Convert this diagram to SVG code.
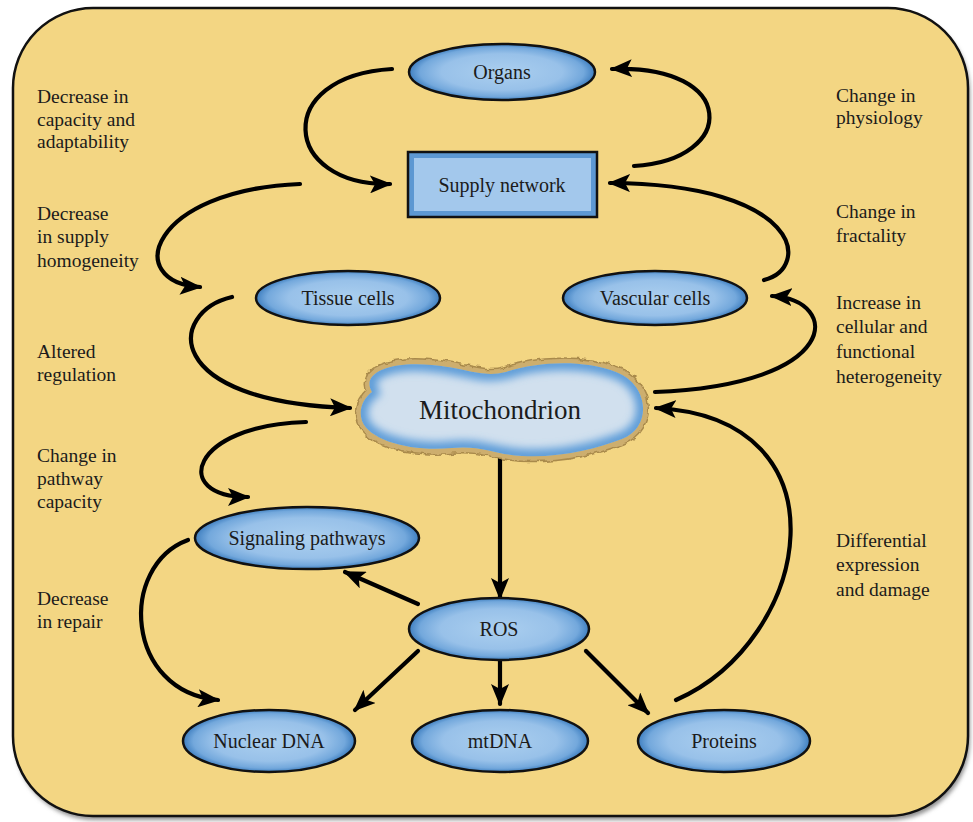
<svg xmlns="http://www.w3.org/2000/svg" width="973" height="822" viewBox="0 0 973 822">
  <style>
    .node { stroke: #111; stroke-width: 2.5; }
    .ell { fill: url(#blueGrad); }
    .label { font-family: "Liberation Serif", "Times New Roman", serif; font-size: 20px; fill: #1b1b1b; text-anchor: middle; dominant-baseline: central; }
    .side { font-family: "Liberation Serif", "Times New Roman", serif; font-size: 19.5px; fill: #1b1b1b; }
    .conn { fill: none; stroke: #000; stroke-width: 4.2; stroke-linecap: round; marker-end: url(#arrow); }
  </style>
  <defs>
    <radialGradient id="blueGrad" cx="50%" cy="50%" r="50%">
      <stop offset="0%" stop-color="#ABCFEF"/>
      <stop offset="65%" stop-color="#98C1E9"/>
      <stop offset="88%" stop-color="#73A8DC"/>
      <stop offset="100%" stop-color="#3F7FC0"/>
    </radialGradient>
    <marker id="arrow" viewBox="0 0 22 18" refX="20" refY="9" markerWidth="22" markerHeight="18" markerUnits="userSpaceOnUse" orient="auto">
      <path d="M0,0 L22,9 L0,18 L5,9 Z" fill="#000"/>
    </marker>
    <filter id="blur4" x="-20%" y="-20%" width="140%" height="140%">
      <feGaussianBlur stdDeviation="4"/>
    </filter>
    <filter id="rough" x="-10%" y="-10%" width="120%" height="120%">
      <feTurbulence type="fractalNoise" baseFrequency="0.12" numOctaves="2" seed="3" result="noise"/>
      <feDisplacementMap in="SourceGraphic" in2="noise" scale="6" xChannelSelector="R" yChannelSelector="G"/>
    </filter>
    <filter id="shadow" x="-5%" y="-5%" width="110%" height="110%">
      <feGaussianBlur stdDeviation="2"/>
    </filter>
    <path id="mitoShape" d="M372,392 C360,372 392,361 432,365 C466,368 482,378 506,372 C536,362 582,359 616,372 C650,385 652,428 622,439 C596,449 560,458 522,456 C496,455 482,445 452,448 C412,452 370,441 362,421 C358,408 364,398 372,392 Z"/>
    <clipPath id="mitoClip">
      <use href="#mitoShape"/>
    </clipPath>
  </defs>

  <!-- background panel -->
  <rect x="15" y="12" width="955" height="808" rx="80" ry="80" fill="#8f8f8f" filter="url(#shadow)"/>
  <rect x="13" y="8" width="955" height="808" rx="80" ry="80" fill="#F3D683" stroke="#111" stroke-width="2.5"/>

  <!-- side annotations -->
  <g id="annotations">
    <text class="side" x="37" y="103">Decrease in</text>
    <text class="side" x="37" y="126">capacity and</text>
    <text class="side" x="37" y="148">adaptability</text>

    <text class="side" x="37" y="220">Decrease</text>
    <text class="side" x="37" y="243">in supply</text>
    <text class="side" x="37" y="267">homogeneity</text>

    <text class="side" x="37" y="358">Altered</text>
    <text class="side" x="37" y="381">regulation</text>

    <text class="side" x="37" y="462">Change in</text>
    <text class="side" x="37" y="485">pathway</text>
    <text class="side" x="37" y="508">capacity</text>

    <text class="side" x="37" y="605">Decrease</text>
    <text class="side" x="37" y="628">in repair</text>

    <text class="side" x="836" y="102">Change in</text>
    <text class="side" x="836" y="124">physiology</text>

    <text class="side" x="836" y="218">Change in</text>
    <text class="side" x="836" y="242">fractality</text>

    <text class="side" x="836" y="309">Increase in</text>
    <text class="side" x="836" y="333">cellular and</text>
    <text class="side" x="836" y="358">functional</text>
    <text class="side" x="836" y="383">heterogeneity</text>

    <text class="side" x="836" y="547">Differential</text>
    <text class="side" x="836" y="571">expression</text>
    <text class="side" x="836" y="596">and damage</text>
  </g>

  <!-- connectors -->
  <g id="connectors">
    <path class="conn" d="M392,69 C272,76 282,186 390,184"/>
    <path class="conn" d="M634,166 C738,160 738,64 612,69"/>
    <path class="conn" d="M300,184 C150,190 122,282 200,287"/>
    <path class="conn" d="M764,280 C812,268 802,184 610,183"/>
    <path class="conn" d="M232,297 C168,312 160,402 350,408"/>
    <path class="conn" d="M655,392 C842,385 842,300 772,296"/>
    <path class="conn" d="M306,422 C190,425 170,497 248,497"/>
    <path class="conn" d="M500,458 L500,598"/>
    <path class="conn" d="M676,700 C812,640 852,418 656,408"/>
    <path class="conn" d="M418,604 L345,572"/>
    <path class="conn" d="M188,540 C118,566 125,692 218,700"/>
    <path class="conn" d="M418,651 L355,710"/>
    <path class="conn" d="M500,661 L500,704"/>
    <path class="conn" d="M586,651 L648,713"/>
  </g>

  <!-- nodes -->
  <g id="node-organs">
    <ellipse class="node ell" cx="502" cy="72" rx="93" ry="28"/>
    <text class="label" x="502" y="72">Organs</text>
  </g>
  <g id="node-supply">
    <rect class="node" x="408" y="152" width="189" height="65" fill="#5D98D2"/>
    <rect x="414" y="158" width="177" height="53" fill="#A3C8EC"/>
    <text class="label" x="502" y="185">Supply network</text>
  </g>
  <g id="node-tissue">
    <ellipse class="node ell" cx="348" cy="298" rx="92" ry="27"/>
    <text class="label" x="348" y="298">Tissue cells</text>
  </g>
  <g id="node-vascular">
    <ellipse class="node ell" cx="655" cy="298" rx="92" ry="27"/>
    <text class="label" x="655" y="298">Vascular cells</text>
  </g>
  <g id="node-mitochondrion">
    <use href="#mitoShape" fill="none" stroke="#A98A4C" stroke-width="12" filter="url(#rough)"/>
    <use href="#mitoShape" fill="none" stroke="#CDAE6E" stroke-width="9" filter="url(#rough)"/>
    <g clip-path="url(#mitoClip)">
      <use href="#mitoShape" fill="#D1E0EE"/>
      <use href="#mitoShape" fill="none" stroke="#5C9BD8" stroke-width="14" filter="url(#blur4)"/>
    </g>
    <text class="label" x="500" y="410" style="font-size:27px">Mitochondrion</text>
  </g>
  <g id="node-signaling">
    <ellipse class="node ell" cx="307" cy="538" rx="112" ry="31"/>
    <text class="label" x="307" y="538">Signaling pathways</text>
  </g>
  <g id="node-ros">
    <ellipse class="node ell" cx="499" cy="629" rx="90" ry="31"/>
    <text class="label" x="499" y="629">ROS</text>
  </g>
  <g id="node-nuclear">
    <ellipse class="node ell" cx="269" cy="741" rx="86" ry="31"/>
    <text class="label" x="269" y="741">Nuclear DNA</text>
  </g>
  <g id="node-mtdna">
    <ellipse class="node ell" cx="500" cy="741" rx="88" ry="31"/>
    <text class="label" x="500" y="741">mtDNA</text>
  </g>
  <g id="node-proteins">
    <ellipse class="node ell" cx="724" cy="741" rx="86" ry="31"/>
    <text class="label" x="724" y="741">Proteins</text>
  </g>
</svg>
